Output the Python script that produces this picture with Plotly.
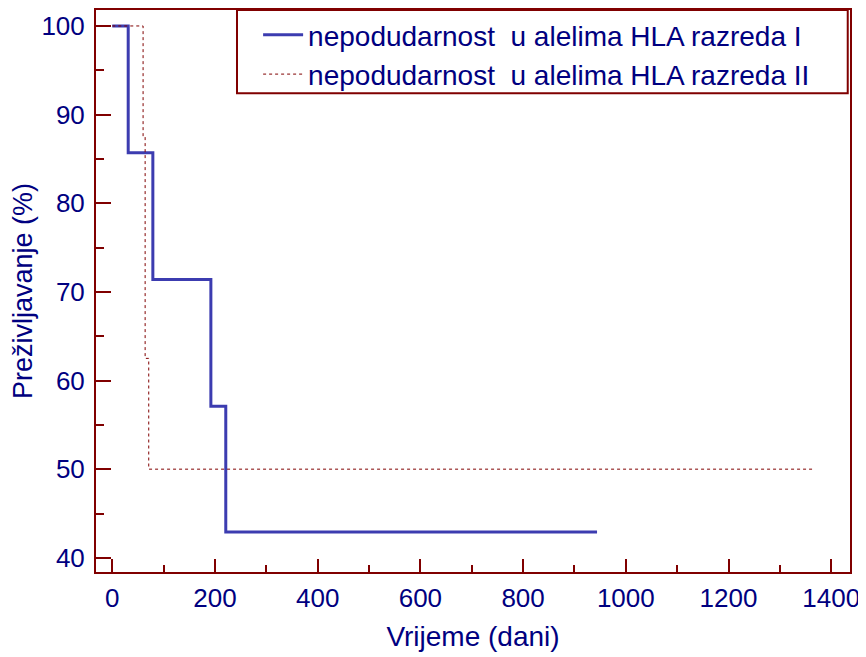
import plotly.graph_objects as go

# Kaplan-Meier krivulje (vrijeme u danima, preživljavanje u %)
t_class1 = [0, 31, 31, 79, 79, 192, 192, 221, 221, 944]
s_class1 = [100, 100, 85.7, 85.7, 71.4, 71.4, 57.1, 57.1, 42.9, 42.9]

t_class2 = [0, 60, 60, 64, 64, 64, 64, 71, 71, 1365]
s_class2 = [100, 100, 87.5, 87.5, 75, 75, 62.5, 62.5, 50, 50]

name1 = "nepodudarnost  u alelima HLA razreda I"
name2 = "nepodudarnost  u alelima HLA razreda II"

FRAME = "#800000"
TEXT = "#000080"
FONT = "Liberation Sans, Arial, sans-serif"

fig = go.Figure()

fig.add_trace(go.Scatter(
    x=t_class1, y=s_class1, mode="lines", name=name1,
    line=dict(color="#3c3cb0", width=3),
))
fig.add_trace(go.Scatter(
    x=t_class2, y=s_class2, mode="lines", name=name2,
    line=dict(color=FRAME, width=1, dash="dot"),
))

# okvir legende
fig.add_shape(
    type="rect", xref="paper", yref="paper",
    x0=0.187, x1=0.997, y0=0.852, y1=1.0,
    line=dict(color=FRAME, width=2), fillcolor="rgba(0,0,0,0)",
)

fig.update_xaxes(
    range=[-31.7, 1436.6], tickvals=[0, 200, 400, 600, 800, 1000, 1200, 1400],
    ticks="inside", ticklen=13, tickwidth=2, tickcolor=FRAME,
    minor=dict(dtick=100, tick0=0, ticks="inside", ticklen=7, tickwidth=2, tickcolor=FRAME),
    showline=True, linecolor=FRAME, linewidth=2, mirror=True,
    showgrid=False, zeroline=False, ticklabelstandoff=2, automargin=False,
    tickfont=dict(size=26, color=TEXT, family=FONT),
    title=dict(text="Vrijeme (dani)", font=dict(size=28, color=TEXT, family=FONT), standoff=14),
)
fig.update_yaxes(
    range=[38.4, 101.8], tickvals=[40, 50, 60, 70, 80, 90, 100],
    ticks="inside", ticklen=15, tickwidth=2, tickcolor=FRAME,
    minor=dict(dtick=5, tick0=0, ticks="inside", ticklen=8, tickwidth=2, tickcolor=FRAME),
    showline=True, linecolor=FRAME, linewidth=2, mirror=True,
    showgrid=False, zeroline=False, ticklabelstandoff=4, automargin=False,
    tickfont=dict(size=26, color=TEXT, family=FONT),
    title=dict(text="Preživljavanje (%)", font=dict(size=27, color=TEXT, family=FONT), standoff=5),
)

# stranica ima 8px margine oko grafa, pa je figura manja za taj pomak
fig.update_layout(
    width=858, height=649,
    margin=dict(l=88, r=16, t=2, b=85),
    plot_bgcolor="white", paper_bgcolor="white",
    showlegend=True,
    legend=dict(
        x=0.215, y=1.0, xanchor="left", yanchor="top",
        bgcolor="rgba(0,0,0,0)", borderwidth=0,
        font=dict(size=28, color=TEXT, family=FONT),
        itemwidth=40,
    ),
)

fig.write_html("out.html")
